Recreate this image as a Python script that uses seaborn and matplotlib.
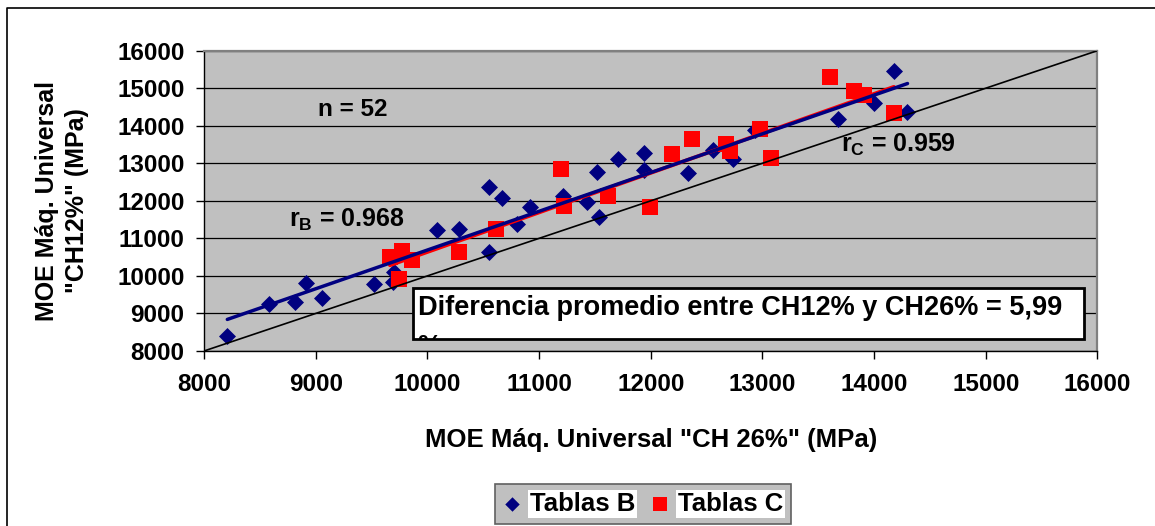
import matplotlib
matplotlib.use("Agg")
import matplotlib.pyplot as plt
from matplotlib.patches import Rectangle
from matplotlib.lines import Line2D
from matplotlib.transforms import Bbox, TransformedBbox
import seaborn as sns
import pandas as pd

# MOE at CH 26% (x) vs MOE at CH 12% (y), MPa
tablas_b_x = [8209, 8585, 8815, 8913, 9053, 9525, 9704, 9689, 10083, 10280,
              10554, 10668, 10554, 10802, 10919, 11217, 11521, 11709, 11939, 11939,
              11431, 11539, 12336, 12554, 12733, 12933, 14180, 13673, 14003, 14299]
tablas_b_y = [8400, 9252, 9313, 9803, 9404, 9785, 10113, 9846, 11223, 11250,
              12377, 12084, 10637, 11391, 11844, 12129, 12776, 13115, 13283, 12822,
              11977, 11577, 12731, 13354, 13107, 13887, 15467, 14180, 14614, 14375]

tablas_c_x = [9665, 9770, 9859, 9748, 10280, 10614, 11193, 11226, 11614, 11993,
              12190, 12372, 12677, 12713, 12977, 13073, 13604, 13822, 13911, 14177]
tablas_c_y = [10496, 10672, 10424, 9910, 10629, 11240, 12840, 11862, 12141, 11840,
              13237, 13640, 13517, 13328, 13906, 13133, 15291, 14934, 14819, 14348]

identity = [8000, 16000]
ticks = [8000, 9000, 10000, 11000, 12000, 13000, 14000, 15000, 16000]

label_n = "n = 52"
label_rb = r"$r_{B}$ = 0.968"
label_rc = r"$r_{C}$ = 0.959"
label_diff = "Diferencia promedio entre CH12% y CH26% = 5,99\n%"

sns.set_theme(style="white")
plt.rcParams["font.family"] = ["Liberation Sans", "DejaVu Sans"]
plt.rcParams["font.weight"] = "bold"
plt.rcParams["text.color"] = "black"
plt.rcParams["axes.labelcolor"] = "black"
plt.rcParams["xtick.color"] = "black"
plt.rcParams["ytick.color"] = "black"
plt.rcParams["mathtext.fontset"] = "custom"
plt.rcParams["mathtext.rm"] = "Liberation Sans:bold"
plt.rcParams["mathtext.it"] = "Liberation Sans:bold"
plt.rcParams["mathtext.bf"] = "Liberation Sans:bold"

NAVY = "#000080"
RED = "#ff0000"

df_b = pd.DataFrame({"x": tablas_b_x, "y": tablas_b_y})
df_c = pd.DataFrame({"x": tablas_c_x, "y": tablas_c_y})

fig = plt.figure(figsize=(11.55, 5.26), dpi=100)
fig.patch.set_facecolor("white")
ax = fig.add_axes([0.1766, 0.3327, 0.7736, 0.571])
ax.set_facecolor("#c0c0c0")

sns.scatterplot(data=df_b, x="x", y="y", marker="D", s=75, color=NAVY,
                edgecolor=NAVY, linewidth=0, label="Tablas B", ax=ax, zorder=3)
sns.scatterplot(data=df_c, x="x", y="y", marker="s", s=125, color=RED,
                edgecolor=RED, linewidth=0, label="Tablas C", ax=ax, zorder=4)

ax.plot(identity, identity, color="black", lw=1.2, zorder=5)

sns.regplot(data=df_c, x="x", y="y", scatter=False, ci=None, truncate=True,
            line_kws=dict(color=RED, lw=2.7, zorder=6), ax=ax)
sns.regplot(data=df_b, x="x", y="y", scatter=False, ci=None, truncate=True,
            line_kws=dict(color=NAVY, lw=2.5, zorder=7), ax=ax)

ax.set_xlim(identity)
ax.set_ylim(identity)
ax.set_xticks(ticks)
ax.set_yticks(ticks)
ax.set_xticklabels([str(t) for t in ticks], fontweight="bold")
ax.set_yticklabels([str(t) for t in ticks], fontweight="bold")
ax.tick_params(axis="both", which="major", direction="out", length=6, width=1,
               color="black", labelsize=17.5, labelcolor="black")
ax.tick_params(axis="x", pad=10)
ax.tick_params(axis="y", pad=8)
ax.xaxis.set_ticks_position("bottom")
ax.yaxis.set_ticks_position("left")

ax.yaxis.grid(True, color="black", lw=0.9)
ax.xaxis.grid(False)
ax.set_axisbelow(True)

for side in ("left", "bottom"):
    ax.spines[side].set_color("black")
    ax.spines[side].set_linewidth(1)
for side in ("top", "right"):
    ax.spines[side].set_color("#808080")
    ax.spines[side].set_linewidth(1.6)

ax.set_xlabel('MOE Máq. Universal "CH 26%" (MPa)', fontsize=18.5, fontweight="bold",
              labelpad=23)
ax.set_ylabel('MOE Máq. Universal\n"CH12%" (MPa)', fontsize=18, fontweight="bold",
              labelpad=20, linespacing=1.35)

ax.text(0.166, 0.803, label_n, transform=ax.transAxes, fontsize=17.5,
        fontweight="bold", ha="center", va="center", zorder=9)
ax.text(0.095, 0.435, label_rb, transform=ax.transAxes, fontsize=18,
        fontweight="bold", ha="left", va="center", zorder=9)
ax.text(0.713, 0.685, label_rc, transform=ax.transAxes, fontsize=18,
        fontweight="bold", ha="left", va="center", zorder=9)

# annotation box; the wrapped second line is cut off at the box edge
box_bounds = (0.234, 0.040, 0.751, 0.170)
box = Rectangle(box_bounds[:2], box_bounds[2], box_bounds[3], transform=ax.transAxes,
                facecolor="white", edgecolor="black", lw=2, zorder=8)
ax.add_patch(box)
diff_text = ax.text(0.239, 0.186, label_diff, transform=ax.transAxes, fontsize=19.5,
                    fontweight="bold", ha="left", va="top", linespacing=1.65,
                    zorder=9)
diff_text.set_clip_box(TransformedBbox(Bbox.from_bounds(*box_bounds), ax.transAxes))
diff_text.set_clip_on(True)

handles, labels = ax.get_legend_handles_labels()
ax.get_legend().remove()
leg = fig.legend(handles, labels, loc="center",
                 bbox_to_anchor=(643 / 1155, 1 - 504 / 526), ncol=2,
                 frameon=True, fancybox=False, facecolor="#c0c0c0",
                 edgecolor="#606060", framealpha=1, fontsize=18.5,
                 handlelength=0.7, handletextpad=0.35, columnspacing=0.6,
                 borderpad=0.3, markerscale=0.85)
leg.get_frame().set_linewidth(1.2)
for t in leg.get_texts():
    t.set_fontweight("bold")
    t.set_bbox(dict(facecolor="white", edgecolor="none", pad=1.5))

# figure outline (left and top edges)
fig.add_artist(Line2D([7 / 1155, 7 / 1155, 1.0], [0.0, 1 - 8 / 526, 1 - 8 / 526],
                      transform=fig.transFigure, color="black", lw=1.2))

fig.savefig("out.png", dpi=100)
